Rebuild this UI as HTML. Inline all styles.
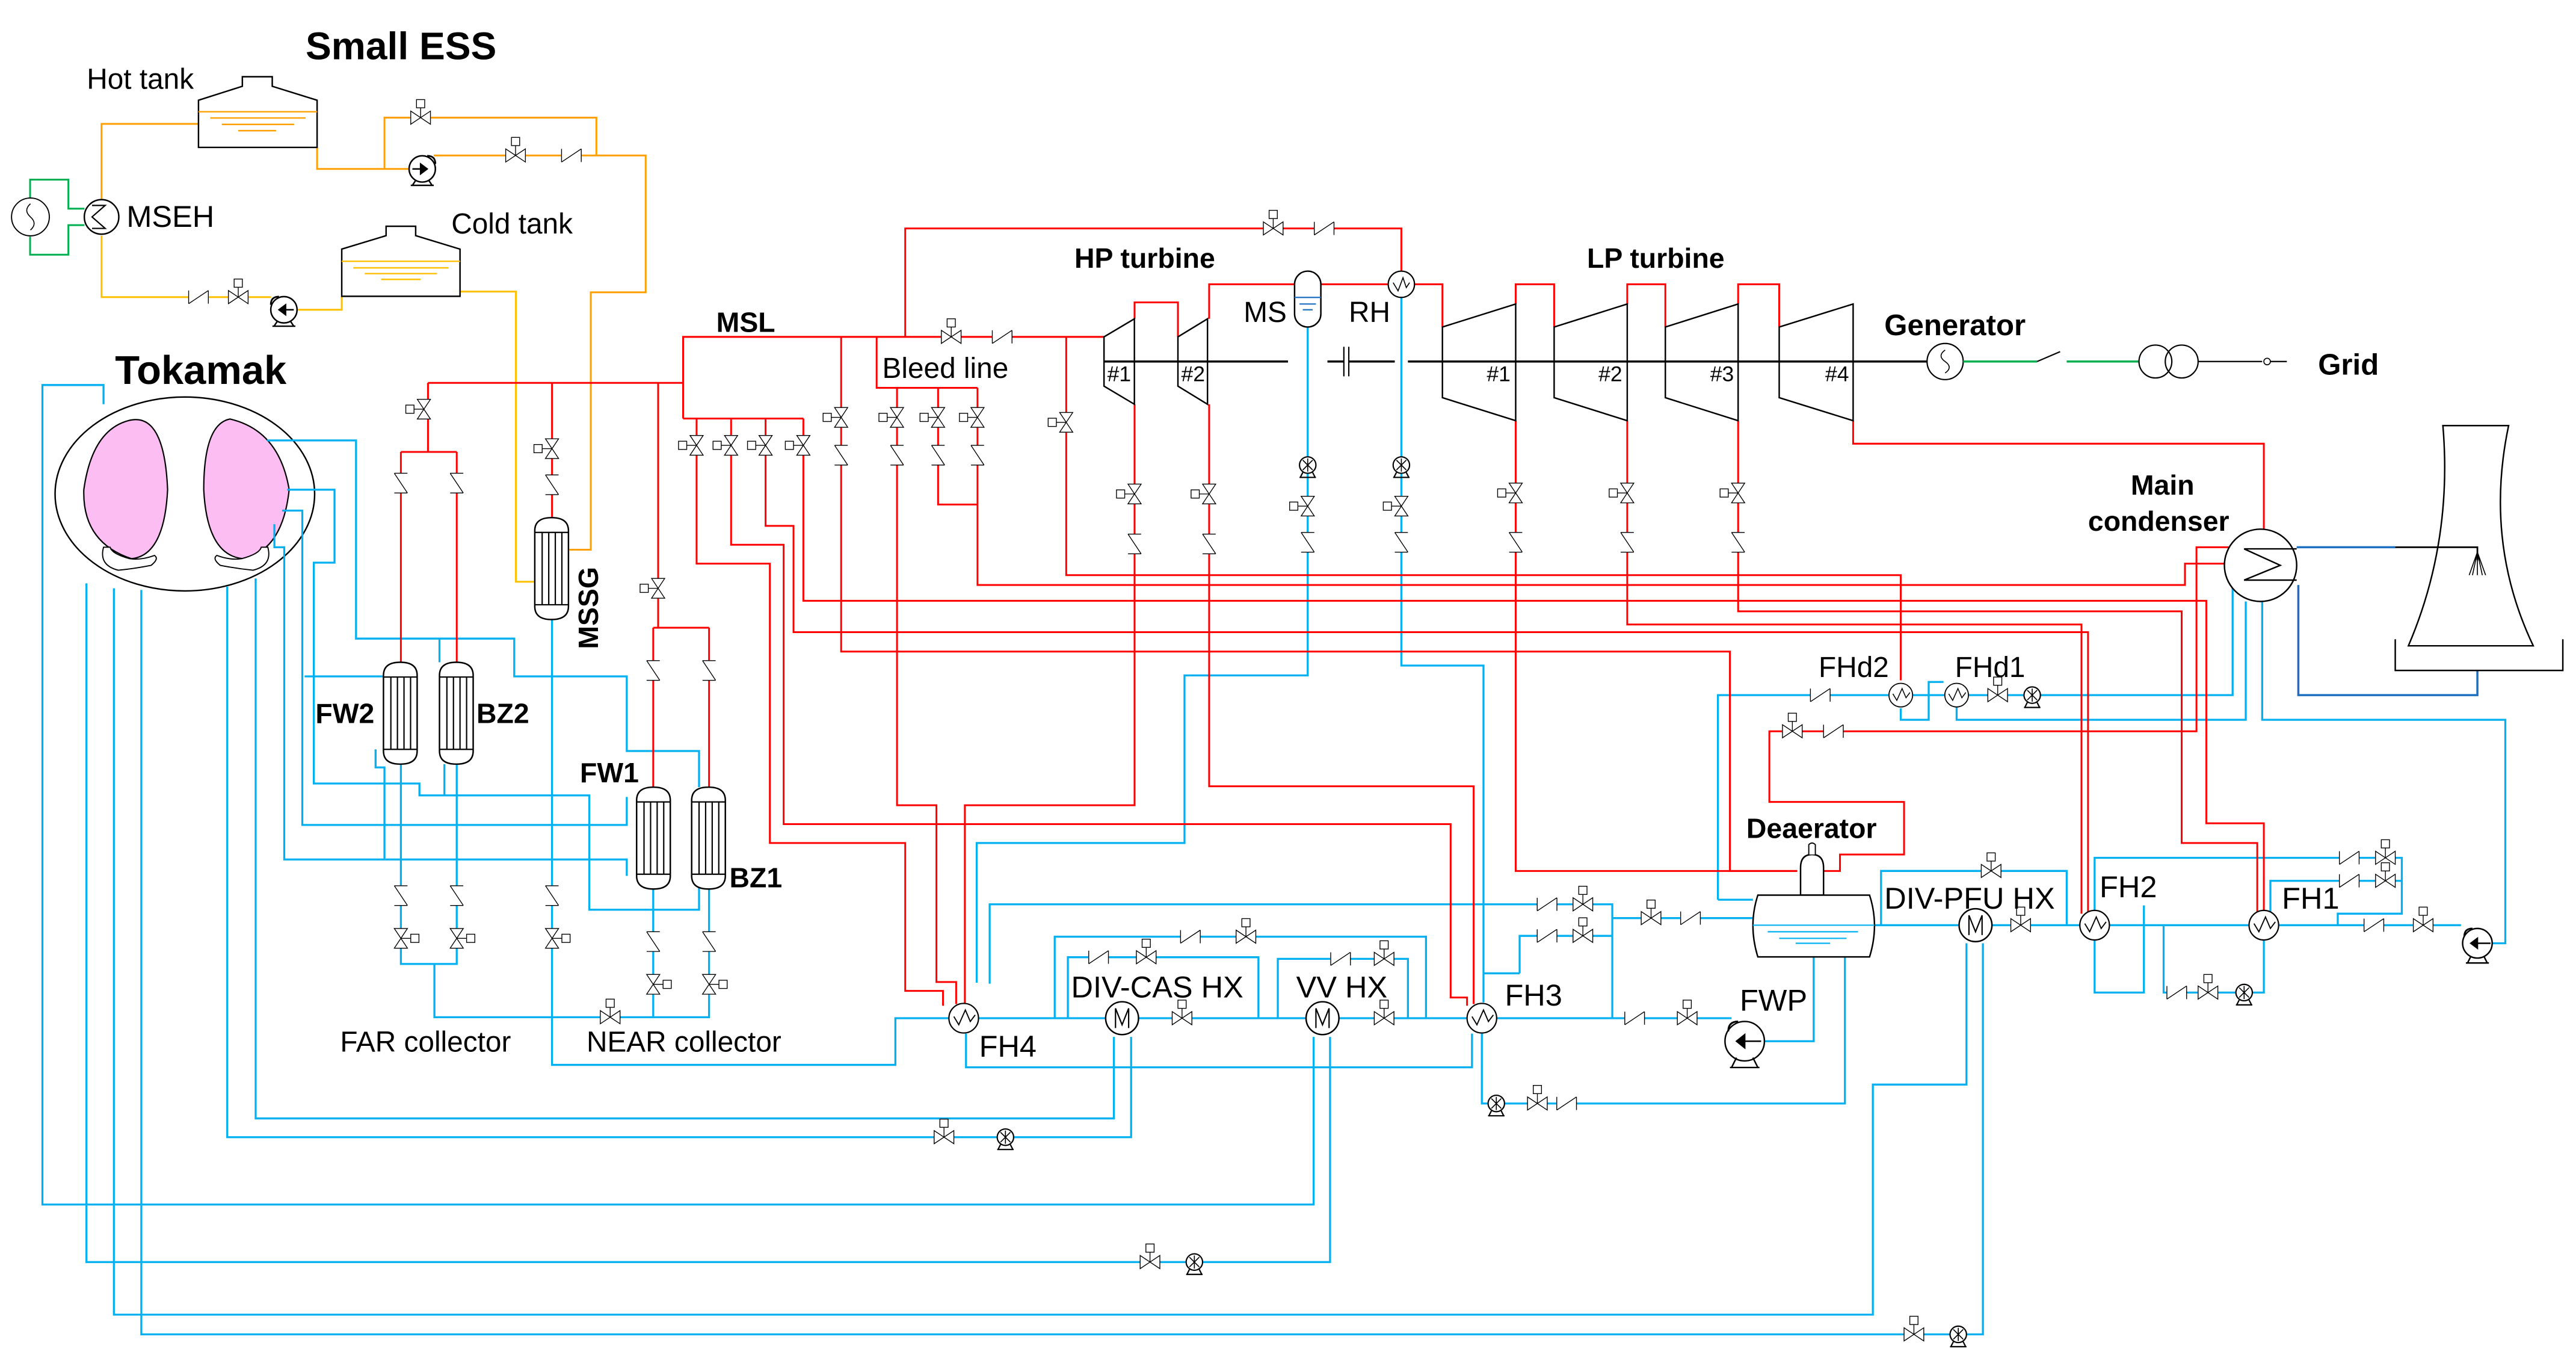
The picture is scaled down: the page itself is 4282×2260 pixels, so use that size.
<!DOCTYPE html>
<html><head><meta charset="utf-8"><style>
html,body{margin:0;padding:0;background:#fff;}
svg{display:block;}
text{font-family:"Liberation Sans",Arial,sans-serif;fill:#000;}
.b{font-weight:bold;}
</style></head><body>
<svg xmlns="http://www.w3.org/2000/svg" xmlns:xlink="http://www.w3.org/1999/xlink" width="4282" height="2260" viewBox="0 0 1568 827.6">
<defs>
<g id="vh"><rect x="-6" y="-4" width="12" height="8" fill="#fff"/><path d="M-6,-4L6,4V-4L-6,4Z" fill="#fff" stroke="#000" stroke-width=".5"/><path d="M0,0V-6" stroke="#000" stroke-width=".5"/><rect x="-2.5" y="-11" width="5" height="5" fill="#fff" stroke="#000" stroke-width=".5"/></g>
<use id="vv" xlink:href="#vh" transform="rotate(-90)"/>
<g id="ch"><rect x="-6" y="-3" width="12" height="6" fill="#fff"/><path d="M-6,-4V4M-6,4L6,-4M6,-4V4" fill="none" stroke="#000" stroke-width=".5"/></g>
<use id="cv" xlink:href="#ch" transform="rotate(90)"/>
<g id="ps"><circle r="5" fill="#fff" stroke="#000" stroke-width=".8"/><path d="M-3,-3L3,3M-3,3L3,-3M0,-4V4" stroke="#000" stroke-width=".6"/><path d="M-5,7.5H5M-3,4.5L-4.5,7.5M3,4.5L4.5,7.5" stroke="#000" stroke-width=".8" fill="none"/></g>
<g id="hx"><circle r="9" fill="#fff" stroke="#000" stroke-width=".8"/><path d="M-6,-1L-3,4L1,-5L4,2L7,-2" fill="none" stroke="#000" stroke-width=".7"/></g>
<g id="mx"><circle r="10" fill="#fff" stroke="#000" stroke-width=".9"/><path d="M-4,6V-6L0,4L4,-6V6" fill="none" stroke="#000" stroke-width=".8"/></g>
<g id="vs"><path d="M0,8Q0,0 10.25,0Q20.5,0 20.5,8V54Q20.5,62 10.25,62Q0,62 0,54Z" fill="#fff" stroke="#000" stroke-width=".9"/><path d="M0,9H20.5M0,53H20.5M4.5,9V53M8.5,9V53M12.5,9V53M16.5,9V53" stroke="#000" stroke-width=".8" fill="none"/></g>
</defs>
<rect width="1568" height="827.6" fill="#fff"/>

<g fill="none" stroke-width="1.1">
<path d="M18.3,121V109.3H41.6V127H51.4M51.4,137H41.6V155H18.3V144" stroke="#00b050"/>
<path d="M61.8,121V75.4H121M193,89.7V102.8H250M234,102.8V71.6H363V94.6M264,94.6H393V177.9H359.6V334.5H346.5" stroke="#ffa000"/>
<path d="M61.8,143.4V180.8H165M180,188.5H208V180.3M280,177.4H314V354H325" stroke="#ffc000"/>
</g>
<g fill="#fff" stroke="#000" stroke-width=".9">
<path d="M120.8,61L147.5,52.5V46.7H165.7V52.5L193,61V89.7H120.8Z"/>
<path d="M208,151.6L235,143.4V137.7H253V143.4L280,151.6V180.3H208Z"/>
</g>
<g stroke-width=".9">
<path d="M120.8,68H193M128,71.8H186M135,75.7H179M145,79.5H168" stroke="#ffa000"/>
<path d="M208,159H280M215,163H273M222,166.5H266M232,170H256" stroke="#ffc000"/>
</g>
<circle cx="18.5" cy="132" r="11.5" fill="#fff" stroke="#000" stroke-width=".7"/>
<path d="M18.5,124Q14,128 18.5,132Q23,136 18.5,140" fill="none" stroke="#000" stroke-width=".6"/>
<circle cx="61.8" cy="132" r="10.5" fill="#fff" stroke="#000" stroke-width=".9"/>
<path d="M56,125H64L56,132L64,139H56" fill="none" stroke="#000" stroke-width=".8"/>
<g transform="translate(257,102.8)"><circle r="8" fill="#fff" stroke="#000" stroke-width=".9"/><path d="M-6,0H2M-1,-3L3,0L-1,3Z" stroke="#000" stroke-width=".9"/><path d="M3,-8Q8,-8 8,-3" fill="none" stroke="#000" stroke-width="1"/><path d="M-7,10H7M-4,7L-6,10M4,7L6,10" stroke="#000" stroke-width=".9"/></g>
<g transform="translate(172.8,188.5)"><circle r="8" fill="#fff" stroke="#000" stroke-width=".9"/><path d="M6,0H-2M1,-3L-3,0L1,3Z" stroke="#000" stroke-width=".9"/><path d="M-3,-8Q-8,-8 -8,-3" fill="none" stroke="#000" stroke-width="1"/><path d="M-7,10H7M-4,7L-6,10M4,7L6,10" stroke="#000" stroke-width=".9"/></g>
<use xlink:href="#vh" x="256" y="71.6"/><use xlink:href="#vh" x="313.8" y="94.6"/><use xlink:href="#ch" x="347.8" y="94.6"/>
<use xlink:href="#vh" x="145" y="180.8"/><use xlink:href="#ch" x="120.8" y="180.8"/>

<ellipse cx="112.5" cy="300.6" rx="79" ry="59" fill="#fff" stroke="#000" stroke-width=".9"/>
<path d="M78,256Q100,250 102,298Q100,338 80,340Q50,330 51,298Q56,262 78,256Z" fill="#fbbdf2" stroke="#000" stroke-width=".8"/>
<path d="M140,255Q170,262 176,298Q172,335 148,340Q126,338 124,298Q124,258 140,255Z" fill="#fbbdf2" stroke="#000" stroke-width=".8"/>
<path d="M63,333Q60,344 72,347Q82,346 92,344Q97,340 94,338Q86,341 79,340Q68,337 67,333Z" fill="#fff" stroke="#000" stroke-width=".7"/>
<path d="M163,333Q166,344 154,347Q144,346 134,344Q129,340 132,338Q140,341 147,340Q158,337 159,333Z" fill="#fff" stroke="#000" stroke-width=".7"/>

<g fill="none" stroke="#00b0f0" stroke-width="1.2">
<path d="M63,246V234.3H25.8V733H799.6V631"/>
<path d="M52.6,355V768H809.6V631"/>
<path d="M69.3,358V800H1140V660H1197V574"/>
<path d="M86,359V812H1207V574"/>
<path d="M138.3,357V692H688.5V631"/>
<path d="M155.6,352V680.6H678V631"/>
<path d="M162.6,268H216.7V388.6H313V411.6H381.5V457H425.5V479M267.5,388.6V403"/>
<path d="M174.8,298H203.6V342.4H191V476.8H255.3V484H358.7V553.6H425.5V540M270.5,484V465"/>
<path d="M171.7,310.7H184V502H381.5V485"/>
<path d="M167,319V333H173V523H381.5V533M234,523V467H228.6V456"/>
<path d="M185.4,411.6H233.4"/>
<path d="M244,465V586.6H278V465M264.4,586.6V619H431.6V540M397.6,540V619"/>
<path d="M336,376.6V648H545V619.6H1054"/>
<path d="M588,629V649.5H896V629"/>
<path d="M594.5,598V513H721V411H796V199"/>
<path d="M853,181V405H903V610"/>
<path d="M602.4,598.6V550.3H981.4V619.6M981.4,558.7H1067M925,592.3V569.5H981.4M903,592.3H925"/>
<path d="M650,619.6V582.5H766V619.6M642,619.6V570H868V619.6M777.8,619.6V583.5H857V619.6"/>
<path d="M1104,582V633.6H1074M1123,582V671.5H902V629"/>
<path d="M1045.7,547.5H1067M1045.7,547.5V423H1359V357"/>
<path d="M1141,563H1498"/>
<path d="M1377,366V438H1525V574H1517"/>
<path d="M1191,430V438H1367V366M1157,431V438H1174V415H1183"/>
<path d="M1145,563V530H1258V563"/>
<path d="M1275,563V522H1462V556H1423V563M1382,563V536H1462"/>
<path d="M1305,551V604H1275V571M1317,563V604H1378V571"/>
</g>
<path d="M1398,333H1458M1399,356V423H1508V408" fill="none" stroke="#1f6fc0" stroke-width="1.3"/>
<path d="M1458,333H1508V341" fill="none" stroke="#000" stroke-width="1"/>
<path d="M1508,336L1503,350M1508,336L1513,350M1508,336L1508,350M1508,336L1505,350M1508,336L1511,350" stroke="#000" stroke-width=".6"/>

<g fill="none" stroke="#ff0000" stroke-width="1.1">
<path d="M260.5,233H415.8M415.8,254.7V205H672M415.8,254.7H489"/>
<path d="M260.5,233V275M244,275H278M244,275V403M278,275V403"/>
<path d="M336,233V315"/>
<path d="M400.6,233V382M397.6,382H431.6M397.6,382V479M431.6,382V479"/>
<path d="M424,254.7V343H468.6V513H551V603H574V612"/>
<path d="M445,254.7V331.5H477V501.5H883V607H893V612"/>
<path d="M466,254.7V320H483V384.7H1271V556"/>
<path d="M489,254.7V365.6H1343V501H1378V555"/>
<path d="M512,205V396.5H1053V530H1094"/>
<path d="M533.6,205V236H595M546,236V490H570V597.6H582V611M571,236V307H595M595,236V356H1330V343H1355"/>
<path d="M551,205V139H853V165"/>
<path d="M649,205V350H1157V414"/>
<path d="M690.6,246V490H587.3V611M690.6,194V184H717V205"/>
<path d="M736,194V173H788M804,173H845M861,173H878V199"/>
<path d="M736,246V478.5H897V611"/>
<path d="M922.6,185V173H946V199M990.5,185V173H1013.7V199M1058,185V173H1083V199"/>
<path d="M922.6,256V530H1094"/>
<path d="M990.5,256V380H1267V556"/>
<path d="M1058,256V372H1328V513H1374V555"/>
<path d="M1128,256V270H1378V322"/>
<path d="M1357,333H1337V445H1077V488H1159V520H1120V530H1110"/>
</g>

<g fill="#fff" stroke="#000" stroke-width=".9">
<path d="M672,205L690.5,194V246L672,235Z"/><path d="M717,205L735,194V246L717,235Z"/>
<path d="M878,199L922.6,185V256L878,242Z"/><path d="M946,199L990.5,185V256L946,242Z"/>
<path d="M1013.7,199L1058,185V256L1013.7,242Z"/><path d="M1083,199L1128,185V256L1083,242Z"/>
</g>
<path d="M672,220H784M808,220H818M821,220H849M857,220H1173" stroke="#000" stroke-width="1.3"/>
<path d="M818,211V229M821,211V229" stroke="#000" stroke-width=".8"/>
<g font-size="13"><text x="674" y="232">#1</text><text x="719" y="232">#2</text><text x="905" y="232">#1</text><text x="973" y="232">#2</text><text x="1041" y="232">#3</text><text x="1111" y="232">#4</text></g>
<rect x="788" y="165" width="16" height="34" rx="8" fill="#fff" stroke="#000" stroke-width=".9"/>
<path d="M788,181H804M791,185H801M793,188.5H799" stroke="#1f6fc0" stroke-width=".8"/>
<g transform="translate(853,173)"><circle r="8" fill="#fff" stroke="#000" stroke-width=".8"/><path d="M-5,-1L-2,4L1,-4L3,2L5,-1" fill="none" stroke="#000" stroke-width=".6"/></g>
<circle cx="1184" cy="220" r="11" fill="#fff" stroke="#000" stroke-width=".8"/>
<path d="M1184,213Q1179,216.5 1184,220Q1189,223.5 1184,227" fill="none" stroke="#000" stroke-width=".6"/>
<path d="M1195,220H1240M1258,220H1302" stroke="#00b050" stroke-width="1.3"/>
<path d="M1240,220L1254,214" stroke="#000" stroke-width=".8"/>
<circle cx="1312" cy="220" r="10" fill="none" stroke="#000" stroke-width=".8"/><circle cx="1328" cy="220" r="10" fill="none" stroke="#000" stroke-width=".8"/>
<path d="M1338,220H1377" stroke="#000" stroke-width=".8"/><circle cx="1380" cy="220" r="2" fill="#fff" stroke="#000" stroke-width=".6"/><path d="M1382,220H1392" stroke="#000" stroke-width=".8"/>

<circle cx="1376" cy="344" r="22" fill="#fff" stroke="#000" stroke-width=".9"/>
<path d="M1398,334H1366L1388,344L1366,353H1398" fill="none" stroke="#000" stroke-width=".9"/>
<path d="M1487,259H1527Q1512,330 1542,393H1466Q1493,330 1487,259Z" fill="none" stroke="#000" stroke-width=".9"/>
<path d="M1458,389V408H1560V389" fill="none" stroke="#000" stroke-width=".9"/>

<use xlink:href="#vs" x="233.4" y="403"/><use xlink:href="#vs" x="267.5" y="403"/>
<use xlink:href="#vs" x="387.5" y="479"/><use xlink:href="#vs" x="421" y="479"/>
<use xlink:href="#vs" x="325.5" y="315"/>
<path d="M1096,544.7V528Q1096,520 1103,520Q1110,520 1110,528V544.7Z" fill="#fff" stroke="#000" stroke-width=".9"/>
<path d="M1101,520V514Q1103,512 1105,514V520" fill="#fff" stroke="#000" stroke-width=".7"/>
<path d="M1070,544.7H1138Q1144,563 1138,582.3H1070Q1064,563 1070,544.7Z" fill="#fff" stroke="#000" stroke-width=".9"/>
<path d="M1067,563H1141M1076,567H1131M1083,571H1124M1093,574H1114" stroke="#00b0f0" stroke-width=".8"/>

<use xlink:href="#hx" x="586.6" y="619.6"/><use xlink:href="#hx" x="902" y="619.6"/>
<use xlink:href="#hx" x="1275" y="563"/><use xlink:href="#hx" x="1378" y="563"/>
<g transform="translate(1157,423) scale(.8)"><use xlink:href="#hx"/></g>
<g transform="translate(1191,423) scale(.8)"><use xlink:href="#hx"/></g>
<use xlink:href="#mx" x="683" y="619.6"/><use xlink:href="#mx" x="805" y="619.6"/><use xlink:href="#mx" x="1202.5" y="563"/>
<g transform="translate(1062,633.6)"><circle r="12" fill="#fff" stroke="#000" stroke-width=".9"/><path d="M10,0H-4M0,-4L-5,0L0,4Z" stroke="#000" stroke-width=".9"/><path d="M-4,-12Q-10,-12 -10,-6" fill="none" stroke="#000" stroke-width="1.1"/><path d="M-9,16H9M-5,10L-8,16M5,10L8,16" stroke="#000" stroke-width=".9"/></g>
<g transform="translate(1508,574)"><circle r="9" fill="#fff" stroke="#000" stroke-width=".9"/><path d="M8,0H-3M0,-3L-4,0L0,3Z" stroke="#000" stroke-width=".9"/><path d="M-3,-9Q-8,-9 -8,-4" fill="none" stroke="#000" stroke-width="1"/><path d="M-7,12H7M-4,8L-6,12M4,8L6,12" stroke="#000" stroke-width=".9"/></g>

<use xlink:href="#ps" x="612" y="692"/><use xlink:href="#ps" x="727" y="768"/><use xlink:href="#ps" x="1192" y="812"/>
<use xlink:href="#ps" x="910.8" y="671.5"/><use xlink:href="#ps" x="1237" y="423"/><use xlink:href="#ps" x="1366" y="604"/>
<use xlink:href="#ps" x="796" y="283"/><use xlink:href="#ps" x="853" y="283"/>

<g>
<use xlink:href="#vv" x="258" y="249"/><use xlink:href="#vv" x="336" y="273"/><use xlink:href="#vv" x="400.6" y="358"/>
<use xlink:href="#vv" x="424" y="271"/><use xlink:href="#vv" x="445" y="271"/><use xlink:href="#vv" x="466" y="271"/><use xlink:href="#vv" x="489" y="271"/>
<use xlink:href="#vv" x="512" y="254"/><use xlink:href="#vv" x="546" y="254"/><use xlink:href="#vv" x="571" y="254"/><use xlink:href="#vv" x="595" y="254"/>
<use xlink:href="#vv" x="649" y="257"/><use xlink:href="#vv" x="690.6" y="300.6"/><use xlink:href="#vv" x="736" y="300.6"/>
<use xlink:href="#vv" x="922.6" y="300"/><use xlink:href="#vv" x="990.5" y="300"/><use xlink:href="#vv" x="1058" y="300"/>
<use xlink:href="#vv" x="796" y="308"/><use xlink:href="#vv" x="853" y="308"/>
<g transform="translate(244,571) scale(-1,1)"><use xlink:href="#vv"/></g>
<g transform="translate(278,571) scale(-1,1)"><use xlink:href="#vv"/></g>
<g transform="translate(336,571) scale(-1,1)"><use xlink:href="#vv"/></g>
<g transform="translate(397.6,599) scale(-1,1)"><use xlink:href="#vv"/></g>
<g transform="translate(431.6,599) scale(-1,1)"><use xlink:href="#vv"/></g>

<use xlink:href="#cv" x="244" y="294"/><use xlink:href="#cv" x="278" y="294"/><use xlink:href="#cv" x="336" y="295"/>
<use xlink:href="#cv" x="397.6" y="408"/><use xlink:href="#cv" x="431.6" y="408"/>
<use xlink:href="#cv" x="512" y="277"/><use xlink:href="#cv" x="546" y="277"/><use xlink:href="#cv" x="571" y="277"/><use xlink:href="#cv" x="595" y="277"/>
<use xlink:href="#cv" x="690.6" y="331"/><use xlink:href="#cv" x="736" y="331"/>
<use xlink:href="#cv" x="922.6" y="330"/><use xlink:href="#cv" x="990.5" y="330"/><use xlink:href="#cv" x="1058" y="330"/>
<use xlink:href="#cv" x="796" y="330"/><use xlink:href="#cv" x="853" y="330"/>
<use xlink:href="#cv" x="244" y="545"/><use xlink:href="#cv" x="278" y="545"/><use xlink:href="#cv" x="336" y="545"/>
<use xlink:href="#cv" x="397.6" y="573"/><use xlink:href="#cv" x="431.6" y="573"/>

<use xlink:href="#vh" x="775" y="139"/><use xlink:href="#vh" x="371.4" y="619"/><use xlink:href="#vh" x="574.6" y="692"/>
<use xlink:href="#vh" x="700" y="768"/><use xlink:href="#vh" x="1165" y="812"/><use xlink:href="#vh" x="697.7" y="582.5"/>
<use xlink:href="#vh" x="758.4" y="570"/><use xlink:href="#vh" x="842.5" y="583.5"/><use xlink:href="#vh" x="719.5" y="619.6"/>
<use xlink:href="#vh" x="842.5" y="619.6"/><use xlink:href="#vh" x="963.5" y="550.3"/><use xlink:href="#vh" x="963.5" y="569.5"/>
<use xlink:href="#vh" x="1005" y="558.7"/><use xlink:href="#vh" x="1027" y="619.6"/><use xlink:href="#vh" x="935.8" y="671.5"/>
<use xlink:href="#vh" x="1212" y="530"/><use xlink:href="#vh" x="1230" y="563"/><use xlink:href="#vh" x="1216" y="423"/>
<use xlink:href="#vh" x="1091" y="445"/><use xlink:href="#vh" x="1475" y="563"/><use xlink:href="#vh" x="1452" y="522"/>
<use xlink:href="#vh" x="1452" y="536"/><use xlink:href="#vh" x="1344" y="604"/><use xlink:href="#vh" x="579" y="205"/>

<use xlink:href="#ch" x="806" y="139"/><use xlink:href="#ch" x="668.7" y="582.5"/><use xlink:href="#ch" x="724.6" y="570"/>
<use xlink:href="#ch" x="816" y="583.5"/><use xlink:href="#ch" x="941.7" y="550.3"/><use xlink:href="#ch" x="941.7" y="569.5"/>
<use xlink:href="#ch" x="1029" y="558.7"/><use xlink:href="#ch" x="995" y="619.6"/><use xlink:href="#ch" x="953.6" y="671.5"/>
<use xlink:href="#ch" x="1108" y="423"/><use xlink:href="#ch" x="1116" y="445"/><use xlink:href="#ch" x="1445" y="563"/>
<use xlink:href="#ch" x="1430" y="522"/><use xlink:href="#ch" x="1430" y="536"/><use xlink:href="#ch" x="1325" y="604"/>
<use xlink:href="#ch" x="610" y="205"/>
</g>

<text x="186" y="36" font-size="23.5" class="b">Small ESS</text>
<text x="52.8" y="54" font-size="17.5">Hot tank</text>
<text x="77" y="138" font-size="18.5">MSEH</text>
<text x="274.7" y="142" font-size="17.5">Cold tank</text>
<text x="70" y="233.6" font-size="24.5" class="b">Tokamak</text>
<text x="436" y="202" font-size="17" class="b">MSL</text>
<text x="537" y="230" font-size="17.5">Bleed line</text>
<text x="654" y="163" font-size="17" class="b">HP turbine</text>
<text x="966" y="163" font-size="17" class="b">LP turbine</text>
<text x="757" y="196" font-size="17.5">MS</text>
<text x="821" y="196" font-size="17.5">RH</text>
<text x="1147" y="204" font-size="18" class="b">Generator</text>
<text x="1411" y="228" font-size="18" class="b">Grid</text>
<text x="1297" y="301" font-size="17" class="b">Main</text>
<text x="1271" y="323" font-size="17" class="b">condenser</text>
<text x="1107" y="412" font-size="17.5">FHd2</text>
<text x="1190" y="412" font-size="17.5">FHd1</text>
<text x="1063" y="510" font-size="17" class="b">Deaerator</text>
<text x="1147" y="553" font-size="18.5">DIV-PFU HX</text>
<text x="1278" y="546" font-size="18.5">FH2</text>
<text x="1389" y="553" font-size="18.5">FH1</text>
<text x="1059" y="615" font-size="18.5">FWP</text>
<text x="916" y="612" font-size="18.5">FH3</text>
<text x="789" y="607" font-size="18.5">VV HX</text>
<text x="652" y="607" font-size="18.5">DIV-CAS HX</text>
<text x="596" y="643" font-size="18.5">FH4</text>
<text x="207" y="640" font-size="17.5">FAR collector</text>
<text x="357" y="640" font-size="17.5">NEAR collector</text>
<text x="192" y="440" font-size="17" class="b">FW2</text>
<text x="290" y="440" font-size="17" class="b">BZ2</text>
<text x="353" y="476" font-size="17" class="b">FW1</text>
<text x="444" y="540" font-size="17" class="b">BZ1</text>
<text x="0" y="0" font-size="17" class="b" transform="translate(364,395) rotate(-90)">MSSG</text>
</svg>
</body></html>
